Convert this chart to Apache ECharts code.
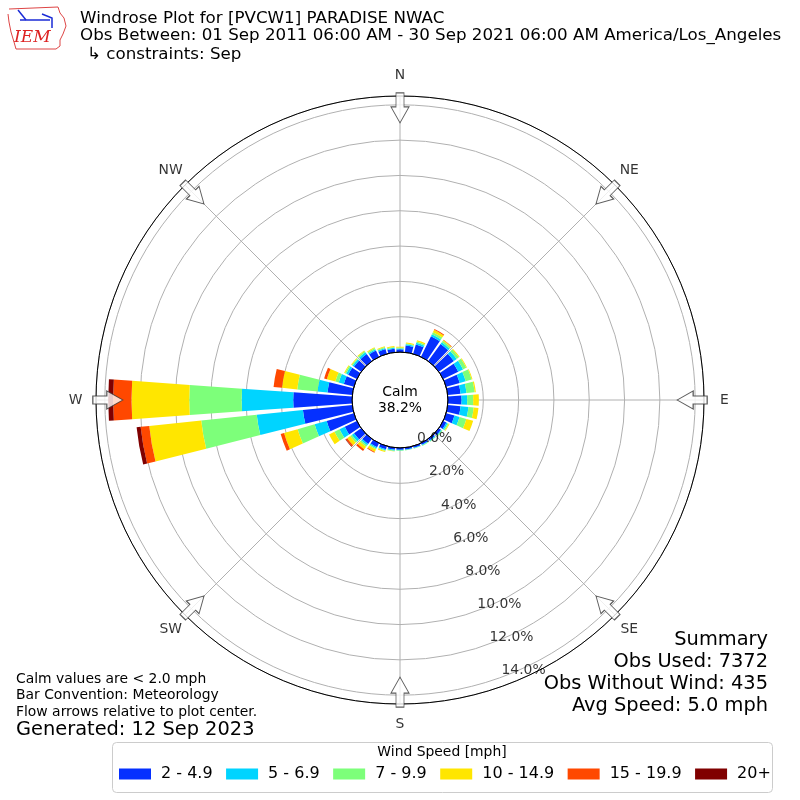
<!DOCTYPE html>
<html><head><meta charset="utf-8">
<script src="https://cdn.jsdelivr.net/npm/echarts@6/dist/echarts.min.js"></script>
<style>html,body{margin:0;padding:0;background:#fff}#c{width:800px;height:800px}</style>
</head><body><div id="c"></div>
<script>
// ---- data ----
const directions = [0,10,20,30,40,50,60,70,80,90,100,110,120,130,140,150,160,170,180,190,200,210,220,230,240,250,260,270,280,290,300,310,320,330,340,350];
const speedBins = ['2 - 4.9','5 - 6.9','7 - 9.9','10 - 14.9','15 - 19.9','20+'];
const bin2to4 =   [0.15,0.38,0.55,1.30,1.20,1.05,0.95,0.80,0.73,0.77,0.73,0.49,0.20,0.15,0.12,0.10,0.10,0.10,0.10,0.12,0.18,0.25,0.35,0.50,0.76,1.60,2.81,3.33,1.41,0.59,0.55,0.50,0.50,0.40,0.28,0.20];
const bin5to6 =   [0.05,0.07,0.10,0.12,0.12,0.20,0.30,0.35,0.34,0.32,0.45,0.30,0.08,0.05,0.05,0.04,0.03,0.03,0.04,0.05,0.06,0.08,0.10,0.15,0.33,0.71,2.63,2.92,0.57,0.30,0.12,0.10,0.12,0.08,0.07,0.05];
const bin7to9 =   [0.05,0.05,0.08,0.13,0.10,0.15,0.20,0.35,0.46,0.34,0.30,0.40,0.07,0.05,0.03,0.03,0.02,0.02,0.03,0.03,0.05,0.07,0.10,0.12,0.32,1.00,3.16,2.97,1.15,0.20,0.08,0.06,0.08,0.07,0.05,0.05];
const bin10to14 = [0.05,0.05,0.07,0.15,0.05,0.05,0.05,0.05,0.07,0.32,0.27,0.40,0.05,0,0,0,0,0,0,0.02,0.06,0.15,0.18,0.20,0.34,0.80,2.96,3.27,0.87,0.50,0.05,0.04,0.05,0.05,0.05,0.05];
const bin15to19 = [0,0,0,0.05,0.03,0,0,0,0,0,0,0,0,0,0,0,0,0,0,0,0,0.05,0.12,0.10,0,0.20,0.49,1.04,0.48,0.16,0,0,0,0,0,0];
const bin20plus = [0,0,0,0,0,0,0,0,0,0,0,0,0,0,0,0,0,0,0,0,0,0,0,0.03,0,0,0.23,0.28,0,0,0,0,0,0,0,0];
const radialTicks = [0,2,4,6,8,10,12,14];
const compassDirs = [0,45,90,135,180,225,270,315];
const compassNames = ['N','NE','E','SE','S','SW','W','NW'];
const calmPercent = 38.2;
const radiusMax = 14.5;
const summaryLines = ['Summary','Obs Used: 7372','Obs Without Wind: 435','Avg Speed: 5.0 mph'];
const noteLines = ['Calm values are < 2.0 mph','Bar Convention: Meteorology','Flow arrows relative to plot center.'];

// ---- style ----
const binColors = ['#0530ff','#00d4ff','#7dff7a','#ffe600','#ff4800','#800000'];
const binData = [bin2to4, bin5to6, bin7to9, bin10to14, bin15to19, bin20plus];
const FONT = 'DejaVu Sans';
const chart = echarts.init(document.getElementById('c'), null, {renderer:'canvas'});

const barSeries = speedBins.map((name, i) => ({
  name, type:'bar', coordinateSystem:'polar', polarIndex:0, stack:'wind',
  data: binData[i], barCategoryGap:'18%', itemStyle:{color:binColors[i]}, z:3
}));

const arrowPath = 'path://M9,0 L18,16 L13,16 L13,30 L5,30 L5,16 L0,16 Z';
const arrowSeries = {
  type:'scatter', coordinateSystem:'polar', polarIndex:1, z:6, silent:true,
  symbol: arrowPath, symbolSize:[18,30],
  itemStyle:{color:'#fff', borderColor:'#333', borderWidth:1},
  data: compassDirs.map(d => ({value:[radiusMax - 0.67, d], symbolRotate: 180 - d}))
};
const rlabelSeries = {
  type:'scatter', coordinateSystem:'polar', polarIndex:1, z:7, silent:true,
  symbolSize:1, itemStyle:{color:'rgba(0,0,0,0)'},
  data: radialTicks.map(v => [v, 160]),
  label:{show:true, position:[1,1], align:'left', verticalAlign:'bottom',
    fontSize:13.9, color:'#000', fontFamily:FONT,
    formatter: p => p.value[0].toFixed(1) + '%'}
};
const compassLabelSeries = {
  type:'scatter', coordinateSystem:'polar', polarIndex:1, z:7, silent:true, clip:false,
  symbolSize:1, itemStyle:{color:'rgba(0,0,0,0)'},
  data: compassDirs.map((d,i) => ({value:[radiusMax + 1.15, d], name:compassNames[i]})),
  label:{show:true, position:'inside', align:'center', verticalAlign:'middle',
    fontSize:13.9, color:'#000', fontFamily:FONT, formatter: p => p.name}
};

const hidden = {axisLine:{show:false}, axisTick:{show:false}, axisLabel:{show:false}, splitLine:{show:false}};

const option = {
  animation:false,
  textStyle:{fontFamily:FONT},
  polar:[
    {center:['50%','50%'], radius:[48,304]},
    {center:['50%','50%'], radius:[48,304]},
    {center:['50%','50%'], radius:48}
  ],
  angleAxis:[
    Object.assign({polarIndex:0, type:'category', data:directions, startAngle:95, clockwise:true, boundaryGap:true}, hidden),
    {polarIndex:1, type:'value', min:0, max:360, interval:45, startAngle:90, clockwise:true, z:1,
      axisLine:{show:true, lineStyle:{color:'#000', width:1}},
      axisTick:{show:false}, axisLabel:{show:false},
      splitLine:{show:true, lineStyle:{color:'#b0b0b0', width:1}}},
    {polarIndex:2, type:'value', min:0, max:360, startAngle:90, z:8,
      axisLine:{show:true, lineStyle:{color:'#000', width:1}},
      axisTick:{show:false}, axisLabel:{show:false}, splitLine:{show:false}}
  ],
  radiusAxis:[
    Object.assign({polarIndex:0, type:'value', min:0, max:radiusMax}, hidden),
    {polarIndex:1, type:'value', min:0, max:radiusMax, interval:2, z:1,
      axisLine:{show:false}, axisTick:{show:false}, axisLabel:{show:false},
      splitLine:{show:true, lineStyle:{color:'#b0b0b0', width:1}}},
    Object.assign({polarIndex:2, type:'value', min:0, max:1}, hidden)
  ],
  legend:{
    data:speedBins, top:766, left:119, padding:0, itemWidth:32, itemHeight:11, itemGap:13.5,
    icon:'rect', selectedMode:false,
    textStyle:{fontSize:16, color:'#000', padding:[0,0,0,5]}
  },
  series:[...barSeries, arrowSeries, rlabelSeries, compassLabelSeries],
  graphic:[
    {type:'rect', left:112, top:742, shape:{width:660, height:50, r:4}, z:0,
      style:{fill:'#fff', stroke:'#cccccc', lineWidth:1}},
    {type:'text', x:442, y:752, z:10, style:{text:'Wind Speed [mph]', font:'13.9px "DejaVu Sans"', fill:'#000', textAlign:'center', textVerticalAlign:'middle'}},
    {type:'text', x:80, y:19, style:{text:'Windrose Plot for [PVCW1] PARADISE NWAC', font:'16.7px "DejaVu Sans"', fill:'#000', textVerticalAlign:'middle'}},
    {type:'text', x:80, y:36, style:{text:'Obs Between: 01 Sep 2011 06:00 AM - 30 Sep 2021 06:00 AM America/Los_Angeles', font:'16.7px "DejaVu Sans"', fill:'#000', textVerticalAlign:'middle'}},
    {type:'text', x:87, y:55, style:{text:'\u21b3 constraints: Sep', font:'16.7px "DejaVu Sans"', fill:'#000', textVerticalAlign:'middle'}},
    {type:'text', x:400, y:392, z:10, style:{text:'Calm', font:'13.9px "DejaVu Sans"', fill:'#000', textAlign:'center', textVerticalAlign:'middle'}},
    {type:'text', x:400, y:408, z:10, style:{text:calmPercent.toFixed(1) + '%', font:'13.9px "DejaVu Sans"', fill:'#000', textAlign:'center', textVerticalAlign:'middle'}},
    ...noteLines.map((t,i) => ({type:'text', x:16, y:679 + i*16.5, style:{text:t, font:'13.9px "DejaVu Sans"', fill:'#000', textVerticalAlign:'middle'}})),
    {type:'text', x:16, y:730, style:{text:'Generated: 12 Sep 2023', font:'19.4px "DejaVu Sans"', fill:'#000', textVerticalAlign:'middle'}},
    ...summaryLines.map((t,i) => ({type:'text', x:768, y:640 + i*22, style:{text:t, font:'19.4px "DejaVu Sans"', fill:'#000', textAlign:'right', textVerticalAlign:'middle'}})),
    {type:'polyline', shape:{points:[[9,9],[58,7],[60,13],[64,18],[66,26],[63,34],[60,40],[60,46],[56,49],[16,49],[14,42],[11,32],[9,22],[8,14]]},
      style:{stroke:'#d44', fill:'none', lineWidth:1}},
    {type:'polyline', shape:{points:[[20,20],[28,20],[50,20]]}, style:{stroke:'#1a2bd6', lineWidth:1.5}},
    {type:'polyline', shape:{points:[[18,10],[26,20]]}, style:{stroke:'#1a2bd6', lineWidth:1.5}},
    {type:'polyline', shape:{points:[[42,14],[52,18],[52,28]]}, style:{stroke:'#1a2bd6', lineWidth:1.5}},
    {type:'text', x:14, y:38, style:{text:'IEM', font:'italic 17px "DejaVu Serif"', fill:'#d22', textVerticalAlign:'middle'}}
  ]
};
chart.setOption(option);
</script>
</body></html>
